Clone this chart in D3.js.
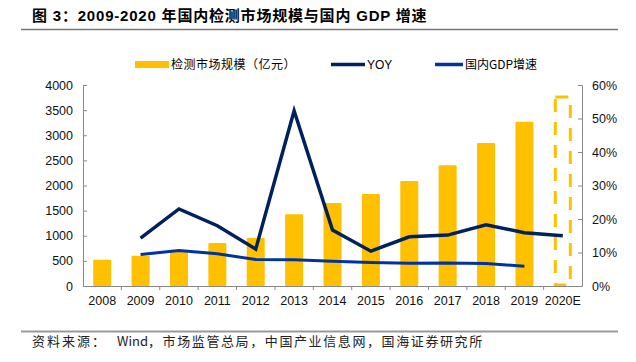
<!DOCTYPE html>
<meta charset="utf-8">
<script src="https://d3js.org/d3.v7.min.js"></script>
<style>
  body { margin: 0; background: #fff; }
  text { font-family: "Liberation Sans", Arial, "Noto Sans CJK SC", sans-serif; }
</style>
<div id="chart"></div>
<script>
// data
var years = ["2008","2009","2010","2011","2012","2013","2014","2015","2016","2017","2018","2019","2020E"];
var marketSize = [520, 600, 715, 855, 955, 1430, 1650, 1830, 2090, 2405, 2845, 3270, null];
var forecast2020 = 3760;
var yoy = [null, 14.3, 23.0, 18.0, 11.0, 52.3, 16.7, 10.4, 14.7, 15.2, 18.3, 15.9, 15.0];
var gdp = [null, 9.4, 10.6, 9.6, 7.9, 7.8, 7.4, 7.0, 6.8, 6.9, 6.7, 5.9, null];
var leftTicks = [0, 500, 1000, 1500, 2000, 2500, 3000, 3500, 4000];
var rightTicks = [0, 10, 20, 30, 40, 50, 60];

var W = 636, H = 362;
var svg = d3.select("#chart").append("svg").attr("width", W).attr("height", H);

var CJK = "'Noto Sans CJK SC', 'Liberation Sans', sans-serif";

// title
svg.append("text")
  .attr("x", 32).attr("y", 21)
  .attr("font-size", 15).attr("font-weight", "bold")
  .attr("letter-spacing", 0.8)
  .style("font-family", "'Liberation Sans', 'Noto Sans CJK SC', sans-serif")
  .text("图 3：2009-2020 年国内检测市场规模与国内 GDP 增速");
svg.append("line").attr("x1", 21).attr("x2", 618).attr("y1", 29.5).attr("y2", 29.5)
  .attr("stroke", "#777").attr("stroke-width", 1.5);

// footer
svg.append("line").attr("x1", 21).attr("x2", 618).attr("y1", 331.5).attr("y2", 331.5)
  .attr("stroke", "#999").attr("stroke-width", 2);
var foot = svg.append("text")
  .attr("x", 32).attr("y", 346)
  .attr("font-size", 13).attr("fill", "#222")
  .style("font-family", CJK);
foot.append("tspan").attr("letter-spacing", 2).text("资料来源：");
foot.append("tspan").attr("dx", 10).text("Wind");
foot.append("tspan").attr("letter-spacing", 1.6).text("，市场监管总局，中国产业信息网，国海证券研究所");

// scales
var x = d3.scaleBand().domain(years).range([83, 582]).paddingInner(0).paddingOuter(0);
var yL = d3.scaleLinear().domain([0, 4000]).range([286, 85]);
var yR = d3.scaleLinear().domain([0, 60]).range([286, 85]);
var barW = 18;

// bars
svg.append("g").selectAll("rect")
  .data(years.map(function(d, i) { return {year: d, v: marketSize[i]}; }).filter(function(d) { return d.v != null; }))
  .enter().append("rect")
  .attr("x", function(d) { return x(d.year) + x.bandwidth() / 2 - barW / 2; })
  .attr("width", barW)
  .attr("y", function(d) { return yL(d.v); })
  .attr("height", function(d) { return yL(0) - yL(d.v); })
  .attr("rx", 1)
  .attr("fill", "#FFC000");

// 2020E forecast dashed outline
var fx = x("2020E") + x.bandwidth() / 2;
svg.append("rect")
  .attr("x", fx - 7.5).attr("width", 15)
  .attr("y", yL(forecast2020)).attr("height", yL(0) - yL(forecast2020) - 1)
  .attr("fill", "none").attr("stroke", "#FFC000").attr("stroke-width", 3)
  .attr("stroke-dasharray", "13,10");

// axes
var axisColor = "#888";
var gL = svg.append("g").attr("transform", "translate(83,0)")
  .call(d3.axisLeft(yL).tickValues(leftTicks).tickSize(-4).tickPadding(10).tickFormat(d3.format("d")));
var gR = svg.append("g").attr("transform", "translate(582,0)")
  .call(d3.axisRight(yR).tickValues(rightTicks).tickSize(-4).tickPadding(10).tickFormat(function(d) { return d + "%"; }));
var gB = svg.append("g").attr("transform", "translate(0,286)")
  .call(d3.axisBottom(x).tickSize(0).tickPadding(10));
// tick marks between categories on the bottom axis
gB.selectAll(".sep").data(years.slice(1)).enter().append("line")
  .attr("class", "sep")
  .attr("x1", function(d) { return x(d); }).attr("x2", function(d) { return x(d); })
  .attr("y1", 0).attr("y2", 4).attr("stroke", axisColor);

[gL, gR, gB].forEach(function(g) {
  g.select(".domain").attr("stroke", axisColor);
  g.selectAll(".tick line").attr("stroke", axisColor);
  g.selectAll("text").attr("font-size", 12.5).attr("fill", "#111")
    .style("font-family", "'Liberation Sans', Arial, sans-serif");
});
gB.select(".domain").attr("d", "M83,0.5H582");

// lines
var lineR = function(vals) {
  return d3.line()
    .defined(function(d) { return d.v != null; })
    .x(function(d) { return x(d.year) + x.bandwidth() / 2; })
    .y(function(d) { return yR(d.v); })(years.map(function(d, i) { return {year: d, v: vals[i]}; }));
};
svg.append("path").attr("d", lineR(gdp))
  .attr("fill", "none").attr("stroke", "#0033A0").attr("stroke-width", 3);
svg.append("path").attr("d", lineR(yoy))
  .attr("fill", "none").attr("stroke", "#002060").attr("stroke-width", 3.5)
  .attr("stroke-linejoin", "miter");

// legend
var lg = svg.append("g");
lg.append("rect").attr("x", 135).attr("y", 61).attr("width", 34).attr("height", 7).attr("fill", "#FFC000");
lg.append("text").attr("x", 171).attr("y", 68.5).attr("font-size", 12).attr("letter-spacing", 0.5).style("font-family", CJK)
  .text("检测市场规模（亿元）");
lg.append("line").attr("x1", 331).attr("x2", 365).attr("y1", 64.5).attr("y2", 64.5)
  .attr("stroke", "#002060").attr("stroke-width", 3.5);
lg.append("text").attr("x", 367).attr("y", 68.5).attr("font-size", 12).text("YOY");
lg.append("line").attr("x1", 435).attr("x2", 463).attr("y1", 64.5).attr("y2", 64.5)
  .attr("stroke", "#0033A0").attr("stroke-width", 3.5);
lg.append("text").attr("x", 465).attr("y", 68.5).attr("font-size", 12).style("font-family", CJK)
  .text("国内GDP增速");
</script>
